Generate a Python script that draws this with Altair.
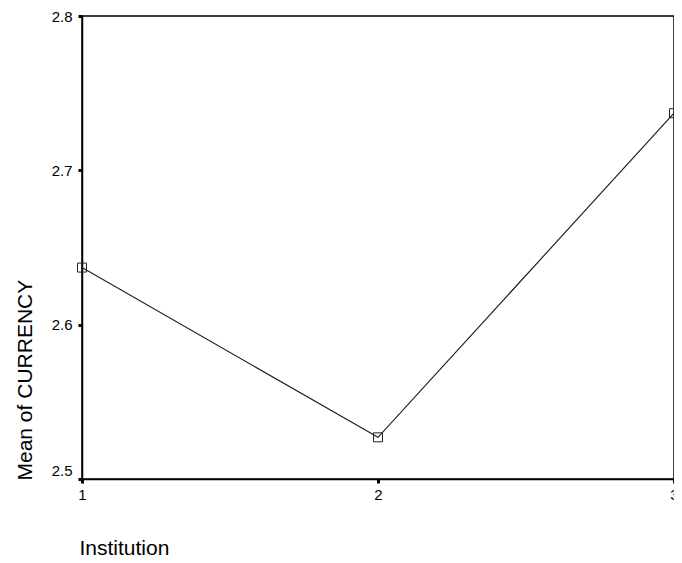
import altair as alt
import pandas as pd

institution = [1, 2, 3]
mean_currency = [2.637, 2.527, 2.737]
y_ticks = [2.5, 2.6, 2.7, 2.8]

df = pd.DataFrame({"Institution": institution, "Mean": mean_currency})

FONT = "Liberation Sans"

x_enc = alt.X(
    "Institution:O",
    scale=alt.Scale(type="point", padding=0),
    axis=alt.Axis(
        title="Institution", labelAngle=0,
        grid=False, domainColor="black", domainWidth=1.5,
        tickColor="black", tickSize=4, tickWidth=3,
        labelOverlap=False, labelFlush=False,
        labelFont=FONT, labelFontSize=15, labelColor="black", labelPadding=4,
        titleFont=FONT, titleFontSize=21, titleFontWeight="normal", titleColor="black",
        titleAnchor="start", titleAlign="left", titleBaseline="alphabetic",
        titleX=-3, titleY=75,
    ),
)
y_enc = alt.Y(
    "Mean:Q",
    scale=alt.Scale(domain=[2.5, 2.8], nice=False, zero=False),
    axis=alt.Axis(
        values=y_ticks, format=".1f", title="Mean of CURRENCY",
        grid=False, domainColor="black", domainWidth=1.5,
        tickColor="black", tickSize=4, tickWidth=3,
        labelOverlap=False, labelFlush=False,
        labelFont=FONT, labelFontSize=15, labelColor="black", labelPadding=6,
        labelOffset={"condition": {"test": "datum.value === 2.5", "value": -9}, "value": 0},
        titleFont=FONT, titleFontSize=21, titleFontWeight="normal", titleColor="black",
        titleAngle=-90, titleAlign="left", titleBaseline="alphabetic",
        titleX=-51, titleY=464,
    ),
)

base = alt.Chart(df).encode(x=x_enc, y=y_enc)
line = base.mark_line(color="#222222", strokeWidth=1.2)
pts = base.mark_point(
    shape="square", size=81, filled=False, color="#222222", strokeWidth=1, opacity=1
)

chart = (
    alt.layer(line, pts)
    .properties(
        width=592, height=463,
        autosize=alt.AutoSizeParams(type="none"),
        padding={"left": 74, "top": 8, "right": 0, "bottom": 76},
        background="white",
    )
    .configure_view(stroke="black", strokeWidth=1.5)
)

chart.save("out.html", embed_options={"renderer": "svg", "actions": False})
